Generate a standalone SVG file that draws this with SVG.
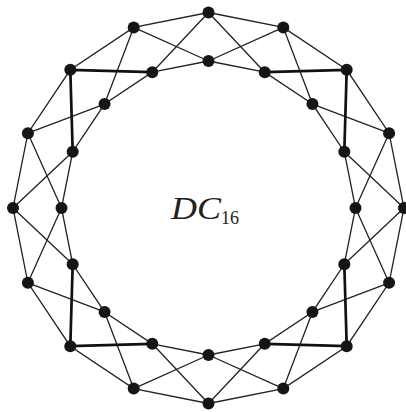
<svg xmlns="http://www.w3.org/2000/svg" width="406" height="412" viewBox="0 0 406 412">
<style>
.e{stroke:#222;stroke-width:1.3;fill:none;stroke-linecap:round}
.t{stroke:#111;stroke-width:2.7;fill:none;stroke-linecap:round}
.n{fill:#151515}
.lbl{font-family:"Liberation Serif",serif;font-style:italic;fill:#222}
.sub{font-family:"Liberation Serif",serif;fill:#222}
</style>
<rect width="406" height="412" fill="#fff"/>
<g id="connectors">
<path class="e" d="M208.5,12.5 L283.3,27.4 L346.7,69.8 L389.1,133.2 L404,208 L389.1,282.8 L346.7,346.2 L283.3,388.6 L208.5,403.5 L133.7,388.6 L70.3,346.2 L27.9,282.8 L13,208 L27.9,133.2 L70.3,69.8 L133.7,27.4 Z"/>
<path class="e" d="M208.5,61 L264.75,72.19 L312.45,104.05 L344.31,151.75 L355.5,208 L344.31,264.25 L312.45,311.95 L264.75,343.81 L208.5,355 L152.25,343.81 L104.55,311.95 L72.69,264.25 L61.5,208 L72.69,151.75 L104.55,104.05 L152.25,72.19 Z"/>
<path class="e" d="M208.5,12.5 L264.75,72.19 M283.3,27.4 L312.45,104.05 M346.7,69.8 L344.31,151.75 M389.1,133.2 L355.5,208 M404,208 L344.31,264.25 M389.1,282.8 L312.45,311.95 M346.7,346.2 L264.75,343.81 M283.3,388.6 L208.5,355 M208.5,403.5 L152.25,343.81 M133.7,388.6 L104.55,311.95 M70.3,346.2 L72.69,264.25 M27.9,282.8 L61.5,208 M13,208 L72.69,151.75 M27.9,133.2 L104.55,104.05 M70.3,69.8 L152.25,72.19 M133.7,27.4 L208.5,61"/>
<path class="e" d="M208.5,61 L283.3,27.4 M264.75,72.19 L346.7,69.8 M312.45,104.05 L389.1,133.2 M344.31,151.75 L404,208 M355.5,208 L389.1,282.8 M344.31,264.25 L346.7,346.2 M312.45,311.95 L283.3,388.6 M264.75,343.81 L208.5,403.5 M208.5,355 L133.7,388.6 M152.25,343.81 L70.3,346.2 M104.55,311.95 L27.9,282.8 M72.69,264.25 L13,208 M61.5,208 L27.9,133.2 M72.69,151.75 L70.3,69.8 M104.55,104.05 L133.7,27.4 M152.25,72.19 L208.5,12.5"/>
<path class="t" d="M264.75,72.19 L346.7,69.8 L344.31,151.75 M344.31,264.25 L346.7,346.2 L264.75,343.81 M152.25,343.81 L70.3,346.2 L72.69,264.25 M72.69,151.75 L70.3,69.8 L152.25,72.19"/>
</g>
<g id="o0"><circle class="n" cx="208.5" cy="12.5" r="6"/></g>
<g id="o1"><circle class="n" cx="283.3" cy="27.4" r="6"/></g>
<g id="o2"><circle class="n" cx="346.7" cy="69.8" r="6"/></g>
<g id="o3"><circle class="n" cx="389.1" cy="133.2" r="6"/></g>
<g id="o4"><circle class="n" cx="404" cy="208" r="6"/></g>
<g id="o5"><circle class="n" cx="389.1" cy="282.8" r="6"/></g>
<g id="o6"><circle class="n" cx="346.7" cy="346.2" r="6"/></g>
<g id="o7"><circle class="n" cx="283.3" cy="388.6" r="6"/></g>
<g id="o8"><circle class="n" cx="208.5" cy="403.5" r="6"/></g>
<g id="o9"><circle class="n" cx="133.7" cy="388.6" r="6"/></g>
<g id="o10"><circle class="n" cx="70.3" cy="346.2" r="6"/></g>
<g id="o11"><circle class="n" cx="27.9" cy="282.8" r="6"/></g>
<g id="o12"><circle class="n" cx="13" cy="208" r="6"/></g>
<g id="o13"><circle class="n" cx="27.9" cy="133.2" r="6"/></g>
<g id="o14"><circle class="n" cx="70.3" cy="69.8" r="6"/></g>
<g id="o15"><circle class="n" cx="133.7" cy="27.4" r="6"/></g>
<g id="i0"><circle class="n" cx="208.5" cy="61" r="6"/></g>
<g id="i1"><circle class="n" cx="264.75" cy="72.19" r="6"/></g>
<g id="i2"><circle class="n" cx="312.45" cy="104.05" r="6"/></g>
<g id="i3"><circle class="n" cx="344.31" cy="151.75" r="6"/></g>
<g id="i4"><circle class="n" cx="355.5" cy="208" r="6"/></g>
<g id="i5"><circle class="n" cx="344.31" cy="264.25" r="6"/></g>
<g id="i6"><circle class="n" cx="312.45" cy="311.95" r="6"/></g>
<g id="i7"><circle class="n" cx="264.75" cy="343.81" r="6"/></g>
<g id="i8"><circle class="n" cx="208.5" cy="355" r="6"/></g>
<g id="i9"><circle class="n" cx="152.25" cy="343.81" r="6"/></g>
<g id="i10"><circle class="n" cx="104.55" cy="311.95" r="6"/></g>
<g id="i11"><circle class="n" cx="72.69" cy="264.25" r="6"/></g>
<g id="i12"><circle class="n" cx="61.5" cy="208" r="6"/></g>
<g id="i13"><circle class="n" cx="72.69" cy="151.75" r="6"/></g>
<g id="i14"><circle class="n" cx="104.55" cy="104.05" r="6"/></g>
<g id="i15"><circle class="n" cx="152.25" cy="72.19" r="6"/></g>
<g id="label">
<text class="lbl" x="171" y="219" font-size="31" textLength="50" lengthAdjust="spacingAndGlyphs">DC</text>
<text class="sub" x="221" y="224" font-size="18">16</text>
</g>
</svg>
